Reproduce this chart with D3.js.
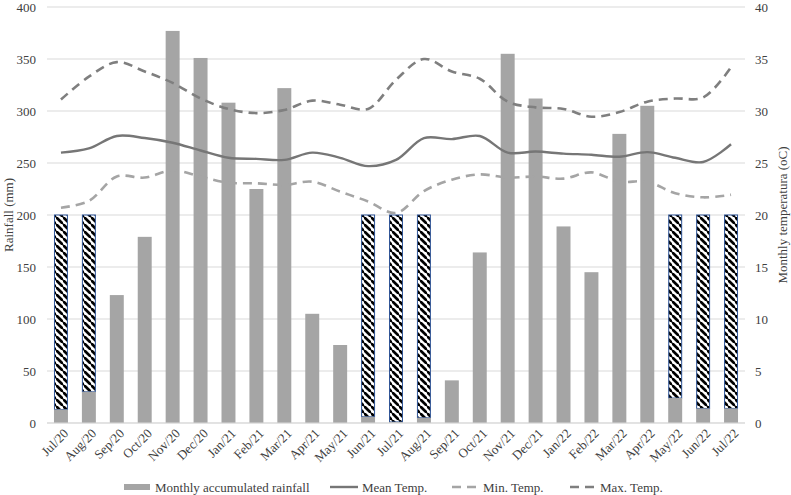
<!DOCTYPE html>
<html>
<head>
<meta charset="utf-8">
<script src="https://cdn.jsdelivr.net/npm/d3@7"></script>
<style>
  body { margin: 0; background: #fff; }
  text { font-family: "Liberation Serif", "Times New Roman", serif; fill: #404040; }
</style>
</head>
<body>
<svg id="chart" width="791" height="495"></svg>
<script>
const months = ["Jul/20","Aug/20","Sep/20","Oct/20","Nov/20","Dec/20","Jan/21","Feb/21","Mar/21","Apr/21","May/21","Jun/21","Jul/21","Aug/21","Sep/21","Oct/21","Nov/21","Dec/21","Jan/22","Feb/22","Mar/22","Apr/22","May/22","Jun/22","Jul/22"];
const rainfall = [13,30,123,179,377,351,308,225,322,105,75,6,1,5,41,164,355,312,189,145,278,305,24,14,14];
// months with incomplete records (hatched bars drawn up to 200 mm)
const missing = [true,true,false,false,false,false,false,false,false,false,false,true,true,true,false,false,false,false,false,false,false,false,true,true,true];
const missingTop = 200;
const meanTemp = [26.0,26.4,27.6,27.4,26.95,26.2,25.5,25.4,25.3,26.0,25.5,24.7,25.3,27.4,27.3,27.6,26.0,26.1,25.9,25.8,25.6,26.05,25.5,25.1,26.8];
const minTemp  = [20.7,21.35,23.7,23.6,24.3,23.7,23.1,23.05,22.9,23.2,22.25,21.3,20.2,22.3,23.4,23.9,23.6,23.7,23.5,24.1,23.2,23.2,22.1,21.7,21.95];
const maxTemp  = [31.1,33.3,34.7,33.8,32.7,31.2,30.2,29.8,30.1,31.0,30.6,30.2,33.0,35.0,33.8,33.1,30.9,30.35,30.2,29.45,29.9,30.9,31.2,31.3,34.2];
const leftTicks = [0,50,100,150,200,250,300,350,400];
const rightTicks = [0,5,10,15,20,25,30,35,40];

const svg = d3.select("#chart");
const plot = {left: 47, right: 745, top: 7, bottom: 423};

const x = d3.scaleBand().domain(months).range([plot.left, plot.right]).paddingInner(0.5).paddingOuter(0.25);
const yL = d3.scaleLinear().domain([0,400]).range([plot.bottom, plot.top]);
const yR = d3.scaleLinear().domain([0,40]).range([plot.bottom, plot.top]);

// hatch pattern
const P = 7;
const defs = svg.append("defs");
const pat = defs.append("pattern").attr("id","hatch").attr("patternUnits","userSpaceOnUse")
  .attr("width",P).attr("height",P);
pat.append("rect").attr("width",P).attr("height",P).attr("fill","#fff");
pat.append("path").attr("d",`M-1,-1 L${P+1},${P+1} M-4,${P-3} L4,${P+5} M${P-3},-4 L${P+5},4`).attr("stroke","#000").attr("stroke-width",2.7);

// gridlines
svg.append("g").selectAll("line").data(leftTicks).join("line")
  .attr("x1", plot.left).attr("x2", plot.right)
  .attr("y1", d => yL(d)).attr("y2", d => yL(d))
  .attr("stroke", "#d9d9d9").attr("stroke-width", 1);

// left axis
const axL = svg.append("g").attr("transform", `translate(${plot.left - 11},0)`)
  .call(d3.axisLeft(yL).tickValues(leftTicks).tickSize(0).tickPadding(0));
axL.select(".domain").remove();
axL.selectAll("text").style("font-size","13px").style("font-family","Liberation Serif").attr("fill","#404040");

// right axis
const axR = svg.append("g").attr("transform", `translate(${plot.right + 10},0)`)
  .call(d3.axisRight(yR).tickValues(rightTicks).tickSize(0).tickPadding(0));
axR.select(".domain").remove();
axR.selectAll("text").style("font-size","13px").style("font-family","Liberation Serif").attr("fill","#404040");

// hatched bars
svg.append("g").selectAll("rect").data(months.map((m,i)=>({m, v: rainfall[i], miss: missing[i]})).filter(d=>d.miss)).join("rect")
  .attr("x", d => x(d.m) + 0.5).attr("width", x.bandwidth() - 1)
  .attr("y", yL(missingTop)).attr("height", d => yL(d.v) - yL(missingTop))
  .attr("fill","url(#hatch)").attr("stroke","#2f5597").attr("stroke-width",1);

// rainfall bars
svg.append("g").selectAll("rect").data(months.map((m,i)=>({m, v: rainfall[i]}))).join("rect")
  .attr("x", d => x(d.m)).attr("width", x.bandwidth())
  .attr("y", d => yL(d.v)).attr("height", d => yL(0) - yL(d.v))
  .attr("fill", "#a5a5a5");

// x axis line
svg.append("line").attr("x1", plot.left).attr("x2", plot.right)
  .attr("y1", plot.bottom).attr("y2", plot.bottom).attr("stroke","#d9d9d9");

// lines
const cx = m => x(m) + x.bandwidth()/2;
const mkLine = arr => d3.line().x((d,i)=>cx(months[i])).y(d=>yR(d)).curve(d3.curveCatmullRom.alpha(0.5))(arr);
svg.append("path").attr("d", mkLine(minTemp)).attr("fill","none").attr("stroke","#a5a5a5").attr("stroke-width",2.6).attr("stroke-dasharray","9,6");
svg.append("path").attr("d", mkLine(maxTemp)).attr("fill","none").attr("stroke","#7f7f7f").attr("stroke-width",2.6).attr("stroke-dasharray","9,6");
svg.append("path").attr("d", mkLine(meanTemp)).attr("fill","none").attr("stroke","#767676").attr("stroke-width",2.4);

// x labels
svg.append("g").selectAll("text").data(months).join("text")
  .attr("transform", d => `translate(${cx(d) + 5},${plot.bottom + 8}) rotate(-45)`)
  .attr("text-anchor","end").attr("dy","0.35em")
  .style("font-size","13px").text(d => d);

// axis titles
svg.append("text").attr("transform", `translate(13,${(plot.top+plot.bottom)/2}) rotate(-90)`)
  .attr("text-anchor","middle").style("font-size","13px").text("Rainfall (mm)");
svg.append("text").attr("transform", `translate(787,${(plot.top+plot.bottom)/2}) rotate(-90)`)
  .attr("text-anchor","middle").style("font-size","13px").text("Monthly temperatura (oC)");

// legend
const ly = 487;
const lg = svg.append("g");
lg.append("rect").attr("x",124).attr("y",ly-3).attr("width",26).attr("height",6).attr("fill","#a5a5a5");
lg.append("text").attr("x",155).attr("y",ly+4.5).style("font-size","13px").text("Monthly accumulated rainfall");
lg.append("line").attr("x1",330).attr("x2",358).attr("y1",ly).attr("y2",ly).attr("stroke","#767676").attr("stroke-width",2.4);
lg.append("text").attr("x",362).attr("y",ly+4.5).style("font-size","13px").text("Mean Temp.");
lg.append("line").attr("x1",452).attr("x2",478).attr("y1",ly).attr("y2",ly).attr("stroke","#a5a5a5").attr("stroke-width",2.6).attr("stroke-dasharray","9,6");
lg.append("text").attr("x",483).attr("y",ly+4.5).style("font-size","13px").text("Min. Temp.");
lg.append("line").attr("x1",570).attr("x2",596).attr("y1",ly).attr("y2",ly).attr("stroke","#7f7f7f").attr("stroke-width",2.6).attr("stroke-dasharray","9,6");
lg.append("text").attr("x",600).attr("y",ly+4.5).style("font-size","13px").text("Max. Temp.");
</script>
</body>
</html>
